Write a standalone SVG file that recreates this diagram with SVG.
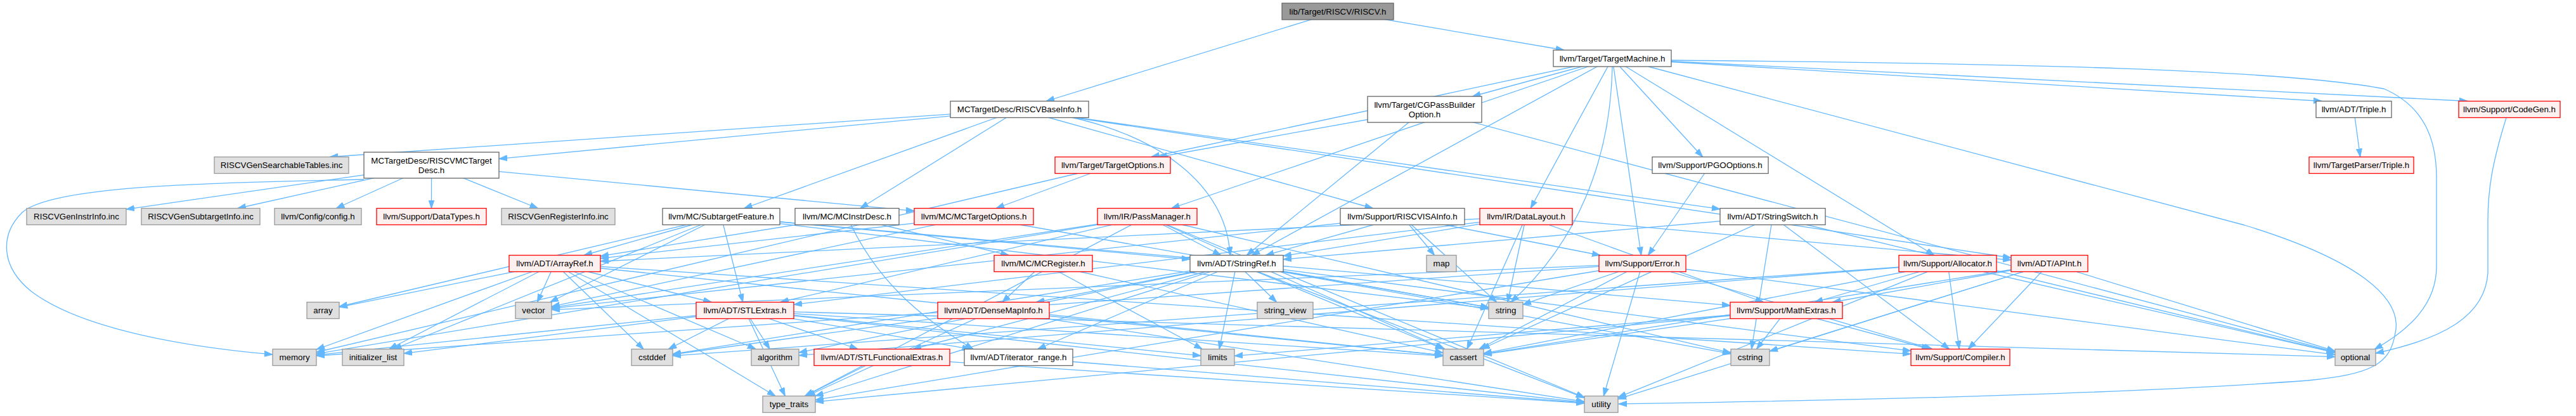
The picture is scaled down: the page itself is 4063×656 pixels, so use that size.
<svg xmlns="http://www.w3.org/2000/svg" width="4063" height="656" viewBox="0 0 4063 656">
<style>
.w rect{fill:#ffffff;stroke:#666666;stroke-width:1.3}
.r rect{fill:#fff0f0;stroke:#ff0000;stroke-width:1.3}
.g rect{fill:#e0e0e0;stroke:#999999;stroke-width:1.3}
.k rect{fill:#999999;stroke:#666666;stroke-width:1.3}
text{font-family:"Liberation Sans",Arial,Helvetica,sans-serif;font-size:13.33px;text-anchor:middle;fill:#000000}
</style>
<defs>
<marker id="arr" markerWidth="14" markerHeight="10" refX="13" refY="5" orient="auto" markerUnits="userSpaceOnUse">
<path d="M0,0.5 L13,5 L0,9.5 z" fill="#63b8ff" stroke="#63b8ff" stroke-width="1"/>
</marker>
</defs>
<rect width="4063" height="656" fill="#ffffff"/>
<g id="edges" fill="none" stroke="#63b8ff" stroke-width="1.3" marker-end="url(#arr)">
<path d="M2110,18 L1650.2,159.5"/>
<path d="M2110,18 L2466.9,79"/>
<path d="M2543,92 L1815.8,247.5"/>
<path d="M2543,92 L1847.7,328.5"/>
<path d="M2543,92 L1974.3,402.5"/>
<path d="M2543,92 L2322.4,152"/>
<path d="M2543,92 L2414.1,328.5"/>
<path d="M2543,105 C2540,250 2490,380 2383,476.5"/>
<path d="M2543,92 L2588.6,402.5"/>
<path d="M2543,92 L2685.6,247.5"/>
<path d="M2543,92 L3050.7,402.5"/>
<path d="M2600,105 L3540,355 C3720,410 3790,470 3778,525 C3770,575 3740,590 3640,600 C3300,625 2800,633 2553,637"/>
<path d="M2543,92 L3662,159.5"/>
<path d="M2543,92 L3892,159.5"/>
<path d="M2636,95 C3200,100 3600,110 3760,140 C3830,170 3843,230 3843,280 L3843,420 C3843,480 3800,520 3745,551"/>
<path d="M2247,172.5 L1827.7,247.5"/>
<path d="M2247,172.5 L1966.4,402.5"/>
<path d="M2247,172.5 L3683,555"/>
<path d="M1608,172.5 L520,247.5"/>
<path d="M1608,172.5 L787,250.4"/>
<path d="M1608,172.5 L1173.7,328.5"/>
<path d="M1608,172.5 L1356.9,328.5"/>
<path d="M1608,172.5 L3172,406.5"/>
<path d="M1608,172.5 C1800,190 1935,280 1940,402.5"/>
<path d="M1608,172.5 L2713,329.7"/>
<path d="M1608,172.5 L2165.5,328.5"/>
<path d="M3712.5,172.5 L3722.7,247.5"/>
<path d="M3953,185.5 C3930,260 3924,300 3924,350 L3924,430 C3920,500 3850,535 3747,557"/>
<path d="M574,283 C300,288 80,295 35,335 C0,370 0,420 50,460 C130,520 300,548 430,559"/>
<path d="M680.5,260.5 L199,330.1"/>
<path d="M680.5,260.5 L374.9,328.5"/>
<path d="M680.5,260.5 L530.2,328.5"/>
<path d="M680.5,260.5 L680.5,328.5"/>
<path d="M680.5,260.5 L848.4,328.5"/>
<path d="M680.5,260.5 L1442,332.6"/>
<path d="M1755,260.5 L1571.1,328.5"/>
<path d="M1755,260.5 L499,555.4"/>
<path d="M2697.5,260.5 L2599.5,402.5"/>
<path d="M1137.5,341.5 L1171.7,476.5"/>
<path d="M1137.5,341.5 L921.1,402.5"/>
<path d="M1137.5,341.5 L535,483.5"/>
<path d="M1137.5,341.5 L867.5,476.5"/>
<path d="M1137.5,341.5 L620.6,550.5"/>
<path d="M1137.5,341.5 L2348,486.3"/>
<path d="M1137.5,341.5 L1877,408.8"/>
<path d="M1137.5,341.5 L2729,481.7"/>
<path d="M1336,341.5 L947,403.9"/>
<path d="M1336,341.5 C1380,440 1450,500 1535,550.5"/>
<path d="M1336,341.5 L1591.1,402.5"/>
<path d="M1536,341.5 L947,407.4"/>
<path d="M1536,341.5 L2348,484.7"/>
<path d="M1536,341.5 L870,483.4"/>
<path d="M1809.5,341.5 L1230.7,476.5"/>
<path d="M1809.5,341.5 L1925.7,402.5"/>
<path d="M1809.5,341.5 L2278.8,550.5"/>
<path d="M1809.5,341.5 L2730,556.4"/>
<path d="M1809.5,341.5 L499,557.8"/>
<path d="M1809.5,341.5 L1269.3,624.5"/>
<path d="M1809.5,341.5 L2499,626.5"/>
<path d="M1809.5,341.5 L870,485.1"/>
<path d="M2212,341.5 L1996.4,402.5"/>
<path d="M2212,341.5 L2524,402.5"/>
<path d="M2212,341.5 L2262.7,402.5"/>
<path d="M2212,341.5 L2360.7,476.5"/>
<path d="M2212,341.5 L870,486.4"/>
<path d="M2407,341.5 L3172,410.1"/>
<path d="M2407,341.5 L947,412"/>
<path d="M2407,341.5 L1252,480.3"/>
<path d="M2407,341.5 L2024,403.6"/>
<path d="M2407,341.5 L2781.4,476.5"/>
<path d="M2407,341.5 L2313.8,550.5"/>
<path d="M2407,341.5 L2377.8,476.5"/>
<path d="M2796,341.5 L2024,409.1"/>
<path d="M2796,341.5 L3074.7,550.5"/>
<path d="M2796,341.5 L2336.6,550.5"/>
<path d="M2796,341.5 L2762.6,550.5"/>
<path d="M2796,341.5 L3683,555.8"/>
<path d="M875,415.5 L1122.3,476.5"/>
<path d="M875,415.5 L3014,558.3"/>
<path d="M875,415.5 L1192,550.5"/>
<path d="M875,415.5 L535,484.3"/>
<path d="M875,415.5 L2276,560.2"/>
<path d="M875,415.5 L1015,550.5"/>
<path d="M875,415.5 L613.7,550.5"/>
<path d="M875,415.5 L499,551.1"/>
<path d="M875,415.5 L1222.9,624.5"/>
<path d="M875,415.5 L847.4,476.5"/>
<path d="M1645.5,415.5 L1580.8,476.5"/>
<path d="M1645.5,415.5 L2276,556.4"/>
<path d="M1645.5,415.5 L1896.3,550.5"/>
<path d="M1950.5,415.5 L1634.4,476.5"/>
<path d="M1950.5,415.5 L1440.1,550.5"/>
<path d="M1950.5,415.5 L1636.7,550.5"/>
<path d="M1950.5,415.5 L3014,553.4"/>
<path d="M1950.5,415.5 L1260,555.9"/>
<path d="M1950.5,415.5 L2276.6,550.5"/>
<path d="M1950.5,415.5 L1061,558.3"/>
<path d="M1950.5,415.5 L2730,557.9"/>
<path d="M1950.5,415.5 L1923.1,550.5"/>
<path d="M1950.5,415.5 L2348,484.8"/>
<path d="M1950.5,415.5 L2013.6,476.5"/>
<path d="M1950.5,415.5 L1285.8,624.5"/>
<path d="M1950.5,415.5 L2499,627.3"/>
<path d="M2590.5,415.5 L3048,550.5"/>
<path d="M2590.5,415.5 L2332.8,550.5"/>
<path d="M2590.5,415.5 L499,561.1"/>
<path d="M2590.5,415.5 L3683,559.3"/>
<path d="M2590.5,415.5 L2402,480.2"/>
<path d="M2590.5,415.5 L1286,630.7"/>
<path d="M2590.5,415.5 L2529.3,624.5"/>
<path d="M2590.5,415.5 L870,488.3"/>
<path d="M3072,415.5 L3090.2,550.5"/>
<path d="M3072,415.5 L2862.2,476.5"/>
<path d="M3072,415.5 L1260,560.5"/>
<path d="M3072,415.5 L2340,557.3"/>
<path d="M3072,415.5 L1061,561.1"/>
<path d="M3072,415.5 L3683,556.1"/>
<path d="M3072,415.5 L2552,626.7"/>
<path d="M3232.5,415.5 L3104.3,550.5"/>
<path d="M3232.5,415.5 L2890.4,476.5"/>
<path d="M3232.5,415.5 L2340,558.4"/>
<path d="M3232.5,415.5 L2791,553.9"/>
<path d="M3232.5,415.5 L3683,553.7"/>
<path d="M3232.5,415.5 L2552,629.2"/>
<path d="M1175,489.5 L1353.1,550.5"/>
<path d="M1175,489.5 L1530.7,550.5"/>
<path d="M1175,489.5 L1214.2,550.5"/>
<path d="M1175,489.5 L2276,561.4"/>
<path d="M1175,489.5 L1054.2,550.5"/>
<path d="M1175,489.5 L637,557.4"/>
<path d="M1175,489.5 L1894,560.9"/>
<path d="M1175,489.5 L499,559.9"/>
<path d="M1175,489.5 L3683,562.6"/>
<path d="M1175,489.5 L1238.4,624.5"/>
<path d="M1175,489.5 L2499,634.6"/>
<path d="M1567,489.5 L2276,560.3"/>
<path d="M1567,489.5 L1061,559"/>
<path d="M1567,489.5 L1272.8,624.5"/>
<path d="M1567,489.5 L2499,633.4"/>
<path d="M2817.5,489.5 L3043.8,550.5"/>
<path d="M2817.5,489.5 L2340,558.9"/>
<path d="M2817.5,489.5 L2770.5,550.5"/>
<path d="M2817.5,489.5 L1947,561.3"/>
<path d="M2817.5,489.5 L1286,633.6"/>
<path d="M1391,563.5 L1270.2,624.5"/>
<path d="M1391,563.5 L2499,635.8"/>
<path d="M1606.5,563.5 L2499,635.4"/>
</g>
<g id="node-root" class="k"><rect x="2022" y="5" width="176" height="26"/><text x="2110" y="22.7">lib/Target/RISCV/RISCV.h</text></g>
<g id="node-TargetMachine" class="w"><rect x="2450" y="79" width="186" height="26"/><text x="2543" y="96.7">llvm/Target/TargetMachine.h</text></g>
<g id="node-RISCVBaseInfo" class="w"><rect x="1499" y="159.5" width="218" height="26"/><text x="1608" y="177.2">MCTargetDesc/RISCVBaseInfo.h</text></g>
<g id="node-CGPassBuilderOption" class="w"><rect x="2157" y="152" width="180" height="41"/><text x="2247" y="169.5">llvm/Target/CGPassBuilder</text><text x="2247" y="184.5">Option.h</text></g>
<g id="node-ADTTriple" class="w"><rect x="3653" y="159.5" width="119" height="26"/><text x="3712.5" y="177.2">llvm/ADT/Triple.h</text></g>
<g id="node-CodeGen" class="r"><rect x="3878" y="159.5" width="160" height="26"/><text x="3958" y="177.2">llvm/Support/CodeGen.h</text></g>
<g id="node-SearchableTables" class="g"><rect x="338" y="247.5" width="212" height="26"/><text x="444" y="265.2">RISCVGenSearchableTables.inc</text></g>
<g id="node-RISCVMCTargetDesc" class="w"><rect x="574" y="240" width="213" height="41"/><text x="680.5" y="257.5">MCTargetDesc/RISCVMCTarget</text><text x="680.5" y="272.5">Desc.h</text></g>
<g id="node-TargetOptions" class="r"><rect x="1664" y="247.5" width="182" height="26"/><text x="1755" y="265.2">llvm/Target/TargetOptions.h</text></g>
<g id="node-PGOOptions" class="w"><rect x="2606" y="247.5" width="183" height="26"/><text x="2697.5" y="265.2">llvm/Support/PGOOptions.h</text></g>
<g id="node-TargetParserTriple" class="r"><rect x="3642" y="247.5" width="165" height="26"/><text x="3724.5" y="265.2">llvm/TargetParser/Triple.h</text></g>
<g id="node-GenInstrInfo" class="g"><rect x="42" y="328.5" width="157" height="26"/><text x="120.5" y="346.2">RISCVGenInstrInfo.inc</text></g>
<g id="node-GenSubtargetInfo" class="g"><rect x="223" y="328.5" width="187" height="26"/><text x="316.5" y="346.2">RISCVGenSubtargetInfo.inc</text></g>
<g id="node-config" class="g"><rect x="433" y="328.5" width="137" height="26"/><text x="501.5" y="346.2">llvm/Config/config.h</text></g>
<g id="node-DataTypes" class="r"><rect x="594" y="328.5" width="173" height="26"/><text x="680.5" y="346.2">llvm/Support/DataTypes.h</text></g>
<g id="node-GenRegisterInfo" class="g"><rect x="791" y="328.5" width="179" height="26"/><text x="880.5" y="346.2">RISCVGenRegisterInfo.inc</text></g>
<g id="node-SubtargetFeature" class="w"><rect x="1045" y="328.5" width="185" height="26"/><text x="1137.5" y="346.2">llvm/MC/SubtargetFeature.h</text></g>
<g id="node-MCInstrDesc" class="w"><rect x="1254" y="328.5" width="164" height="26"/><text x="1336" y="346.2">llvm/MC/MCInstrDesc.h</text></g>
<g id="node-MCTargetOptions" class="r"><rect x="1442" y="328.5" width="188" height="26"/><text x="1536" y="346.2">llvm/MC/MCTargetOptions.h</text></g>
<g id="node-PassManager" class="r"><rect x="1731" y="328.5" width="157" height="26"/><text x="1809.5" y="346.2">llvm/IR/PassManager.h</text></g>
<g id="node-RISCVISAInfo" class="w"><rect x="2114" y="328.5" width="196" height="26"/><text x="2212" y="346.2">llvm/Support/RISCVISAInfo.h</text></g>
<g id="node-DataLayout" class="r"><rect x="2334" y="328.5" width="146" height="26"/><text x="2407" y="346.2">llvm/IR/DataLayout.h</text></g>
<g id="node-StringSwitch" class="w"><rect x="2713" y="328.5" width="166" height="26"/><text x="2796" y="346.2">llvm/ADT/StringSwitch.h</text></g>
<g id="node-ArrayRef" class="r"><rect x="803" y="402.5" width="144" height="26"/><text x="875" y="420.2">llvm/ADT/ArrayRef.h</text></g>
<g id="node-MCRegister" class="r"><rect x="1568" y="402.5" width="155" height="26"/><text x="1645.5" y="420.2">llvm/MC/MCRegister.h</text></g>
<g id="node-StringRef" class="w"><rect x="1877" y="402.5" width="147" height="26"/><text x="1950.5" y="420.2">llvm/ADT/StringRef.h</text></g>
<g id="node-map" class="g"><rect x="2250" y="402.5" width="47" height="26"/><text x="2273.5" y="420.2">map</text></g>
<g id="node-Error" class="r"><rect x="2522" y="402.5" width="137" height="26"/><text x="2590.5" y="420.2">llvm/Support/Error.h</text></g>
<g id="node-Allocator" class="r"><rect x="2995" y="402.5" width="154" height="26"/><text x="3072" y="420.2">llvm/Support/Allocator.h</text></g>
<g id="node-APInt" class="r"><rect x="3172" y="402.5" width="121" height="26"/><text x="3232.5" y="420.2">llvm/ADT/APInt.h</text></g>
<g id="node-array" class="g"><rect x="484" y="476.5" width="51" height="26"/><text x="509.5" y="494.2">array</text></g>
<g id="node-vector" class="g"><rect x="813" y="476.5" width="57" height="26"/><text x="841.5" y="494.2">vector</text></g>
<g id="node-STLExtras" class="r"><rect x="1098" y="476.5" width="154" height="26"/><text x="1175" y="494.2">llvm/ADT/STLExtras.h</text></g>
<g id="node-DenseMapInfo" class="r"><rect x="1479" y="476.5" width="176" height="26"/><text x="1567" y="494.2">llvm/ADT/DenseMapInfo.h</text></g>
<g id="node-string_view" class="g"><rect x="1983" y="476.5" width="88" height="26"/><text x="2027" y="494.2">string_view</text></g>
<g id="node-string" class="g"><rect x="2348" y="476.5" width="54" height="26"/><text x="2375" y="494.2">string</text></g>
<g id="node-MathExtras" class="r"><rect x="2729" y="476.5" width="177" height="26"/><text x="2817.5" y="494.2">llvm/Support/MathExtras.h</text></g>
<g id="node-memory" class="g"><rect x="430" y="550.5" width="69" height="26"/><text x="464.5" y="568.2">memory</text></g>
<g id="node-initializer_list" class="g"><rect x="540" y="550.5" width="97" height="26"/><text x="588.5" y="568.2">initializer_list</text></g>
<g id="node-cstddef" class="g"><rect x="996" y="550.5" width="65" height="26"/><text x="1028.5" y="568.2">cstddef</text></g>
<g id="node-algorithm" class="g"><rect x="1185" y="550.5" width="75" height="26"/><text x="1222.5" y="568.2">algorithm</text></g>
<g id="node-STLFunctionalExtras" class="r"><rect x="1284" y="550.5" width="214" height="26"/><text x="1391" y="568.2">llvm/ADT/STLFunctionalExtras.h</text></g>
<g id="node-iterator_range" class="w"><rect x="1521" y="550.5" width="171" height="26"/><text x="1606.5" y="568.2">llvm/ADT/iterator_range.h</text></g>
<g id="node-limits" class="g"><rect x="1894" y="550.5" width="53" height="26"/><text x="1920.5" y="568.2">limits</text></g>
<g id="node-cassert" class="g"><rect x="2276" y="550.5" width="64" height="26"/><text x="2308" y="568.2">cassert</text></g>
<g id="node-cstring" class="g"><rect x="2730" y="550.5" width="61" height="26"/><text x="2760.5" y="568.2">cstring</text></g>
<g id="node-Compiler" class="r"><rect x="3014" y="550.5" width="156" height="26"/><text x="3092" y="568.2">llvm/Support/Compiler.h</text></g>
<g id="node-optional" class="g"><rect x="3683" y="550.5" width="64" height="26"/><text x="3715" y="568.2">optional</text></g>
<g id="node-type_traits" class="g"><rect x="1203" y="624.5" width="83" height="26"/><text x="1244.5" y="642.2">type_traits</text></g>
<g id="node-utility" class="g"><rect x="2499" y="624.5" width="53" height="26"/><text x="2525.5" y="642.2">utility</text></g>
</svg>
